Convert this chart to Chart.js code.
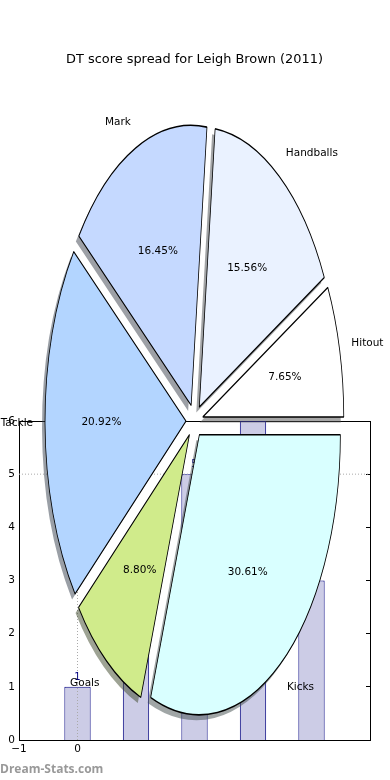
<!DOCTYPE html>
<html>
<head>
<meta charset="utf-8">
<script src="https://cdn.jsdelivr.net/npm/chart.js@4.4.0/dist/chart.umd.min.js"></script>
<style>
  body { margin: 0; background: #fff; }
  #wrap { position: relative; width: 390px; height: 780px; }
  #wrap canvas { position: absolute; left: 0; top: 0; }
</style>
</head>
<body>
<div id="wrap">
  <canvas id="bars" width="390" height="780"></canvas>
  <canvas id="pie" width="390" height="780"></canvas>
</div>
<script>
var chartTitle = 'DT score spread for Leigh Brown (2011)';
var watermark = 'Dream-Stats.com';

// pie slices, clockwise from 3 o'clock
var sliceLabels = ['Kicks', 'Goals', 'Tackle', 'Mark', 'Handballs', 'Hitout'];
var sliceValues = [30.61, 8.80, 20.92, 16.45, 15.56, 7.65];
var sliceColors = ['#d9ffff', '#d0eb8b', '#b3d5ff', '#c5d9ff', '#eaf2ff', '#ffffff'];

// bars behind the pie
var barX = [0, 1, 2, 3, 4];
var barValues = [1, 2, 5, 6, 3];
var xTicks = [-1, 0];
var yTicks = [0, 1, 2, 3, 4, 5, 6];
var refLineY = 5;
var refLineX = 0;

var font = 'DejaVu Sans';
var squash = 1.986;   // pie is stretched vertically
var explode = 8.5;

function shade(hex) {
  var r = parseInt(hex.substr(1, 2), 16) * 0.3;
  var g = parseInt(hex.substr(3, 2), 16) * 0.3;
  var b = parseInt(hex.substr(5, 2), 16) * 0.3;
  return 'rgba(' + Math.round(r) + ',' + Math.round(g) + ',' + Math.round(b) + ',0.5)';
}

function minus(v) {
  return v < 0 ? '\u2212' + (-v) : '' + v;
}

var stretchPie = {
  id: 'stretchPie',
  beforeDatasetsDraw: function(chart) {
    var ctx = chart.ctx;
    var arcs = chart.getDatasetMeta(0).data;
    // shadows first, then the wedges
    for (var pass = 0; pass < 2; pass++) {
      arcs.forEach(function(arc, i) {
        var mid = (arc.startAngle + arc.endAngle) / 2;
        var dx = explode * Math.cos(mid);
        var dy = explode * squash * Math.sin(mid);
        var keep = arc.options;
        ctx.save();
        if (pass == 0) {
          dx -= 3;
          dy += 5.5;
          arc.options = Object.assign({}, keep, {
            backgroundColor: shade(sliceColors[i]),
            borderWidth: 0
          });
        }
        ctx.translate(arc.x + dx, arc.y + dy);
        ctx.scale(1, squash);
        ctx.translate(-arc.x, -arc.y);
        arc.draw(ctx);
        arc.options = keep;
        ctx.restore();
      });
    }
    return false;
  },
  afterDraw: function(chart) {
    var ctx = chart.ctx;
    var arcs = chart.getDatasetMeta(0).data;
    var total = 0;
    for (var i = 0; i < sliceValues.length; i++) total += sliceValues[i];

    ctx.save();
    ctx.font = '10.5px "' + font + '"';
    ctx.fillStyle = '#000';
    ctx.textBaseline = 'middle';
    arcs.forEach(function(arc, i) {
      var mid = (arc.startAngle + arc.endAngle) / 2;
      var c = Math.cos(mid), s = Math.sin(mid);
      var r = arc.outerRadius;
      var x0 = arc.x + explode * c;
      var y0 = arc.y + explode * squash * s;
      ctx.textAlign = c >= 0 ? 'left' : 'right';
      ctx.fillText(sliceLabels[i], x0 + 1.085 * r * c, y0 + 1.1 * r * squash * s);
      ctx.textAlign = 'center';
      var pct = (sliceValues[i] / total * 100).toFixed(2) + '%';
      ctx.fillText(pct, x0 + 0.6 * r * c, y0 + 0.6 * r * squash * s);
    });
    ctx.restore();
  }
};

var barNotes = {
  id: 'barNotes',
  afterDatasetsDraw: function(chart) {
    var ctx = chart.ctx;
    var bars = chart.getDatasetMeta(0).data;
    ctx.save();
    ctx.font = '10px "' + font + '"';
    ctx.fillStyle = '#000080';
    ctx.textAlign = 'center';
    ctx.textBaseline = 'alphabetic';
    bars.forEach(function(bar, i) {
      ctx.fillText('' + barValues[i], bar.x, bar.y - 7);
    });
    ctx.restore();
  },
  afterDraw: function(chart) {
    var ctx = chart.ctx;
    ctx.save();
    ctx.font = 'bold 12px "Open Sans"';
    ctx.fillStyle = '#999';
    ctx.textAlign = 'left';
    ctx.textBaseline = 'middle';
    ctx.fillText(watermark, 0, 770);
    ctx.restore();
  }
};

var barPoints = [];
for (var i = 0; i < barX.length; i++) {
  barPoints.push({x: barX[i], y: barValues[i]});
}

new Chart(document.getElementById('bars'), {
  type: 'bar',
  data: {
    datasets: [{
      type: 'bar',
      data: barPoints,
      backgroundColor: '#ccccE6',
      borderColor: '#000080',
      borderWidth: 1,
      barPercentage: 0.45,
      categoryPercentage: 1,
      xAxisID: 'x',
      yAxisID: 'y',
      order: 1
    }, {
      type: 'line',
      data: [{x: -1, y: refLineY}, {x: 5, y: refLineY}],
      borderColor: '#aaaaaa',
      borderWidth: 1,
      borderDash: [1, 2],
      pointRadius: 0,
      xAxisID: 'x',
      yAxisID: 'y',
      order: 0
    }, {
      type: 'line',
      data: [{x: refLineX, y: 0}, {x: refLineX, y: 6}],
      borderColor: '#aaaaaa',
      borderWidth: 1,
      borderDash: [1, 2],
      pointRadius: 0,
      xAxisID: 'x',
      yAxisID: 'y',
      order: 0
    }]
  },
  options: {
    responsive: false,
    animation: false,
    events: [],
    layout: {padding: {top: 421, right: 20, left: 0, bottom: 0}},
    plugins: {legend: {display: false}, tooltip: {enabled: false}},
    scales: {
      x: {
        type: 'linear', min: -1, max: 5, offset: false,
        grid: {display: false, drawTicks: false},
        border: {color: '#000', width: 1},
        afterBuildTicks: function(s) { s.ticks = xTicks.map(function(v) { return {value: v}; }); },
        afterFit: function(s) { s.height = 40; },
        ticks: {color: '#000', padding: 3, font: {family: font, size: 10.5}, callback: minus}
      },
      y: {
        type: 'linear', min: 0, max: 6,
        grid: {display: false, drawTicks: false},
        border: {color: '#000', width: 1},
        afterBuildTicks: function(s) { s.ticks = yTicks.map(function(v) { return {value: v}; }); },
        afterFit: function(s) { s.width = 19; },
        ticks: {color: '#000', padding: 4, font: {family: font, size: 10.5}}
      },
      x2: {
        type: 'linear', position: 'top', min: -1, max: 5,
        grid: {display: false, drawTicks: false},
        ticks: {display: false},
        border: {color: '#000', width: 1},
        afterFit: function(s) { s.height = 0; }
      },
      y2: {
        type: 'linear', position: 'right', min: 0, max: 6,
        grid: {drawOnChartArea: false, tickLength: -4, color: '#000'},
        ticks: {display: false},
        border: {color: '#000', width: 1},
        afterBuildTicks: function(s) { s.ticks = yTicks.map(function(v) { return {value: v}; }); },
        afterFit: function(s) { s.width = 0; }
      }
    }
  },
  plugins: [barNotes]
});

new Chart(document.getElementById('pie'), {
  type: 'pie',
  data: {
    labels: sliceLabels,
    datasets: [{
      data: sliceValues,
      backgroundColor: sliceColors,
      borderColor: '#000',
      borderWidth: 0.8
    }]
  },
  options: {
    responsive: false,
    animation: false,
    events: [],
    rotation: 90,
    radius: 141,
    layout: {padding: {top: 0, right: 1, bottom: 5.6, left: 0}},
    plugins: {
      legend: {display: false},
      tooltip: {enabled: false},
      title: {
        display: true,
        text: chartTitle,
        color: '#000',
        font: {family: font, size: 12.9, weight: 'normal'},
        padding: {top: 52, bottom: 0}
      }
    }
  },
  plugins: [stretchPie]
});
</script>
</body>
</html>
